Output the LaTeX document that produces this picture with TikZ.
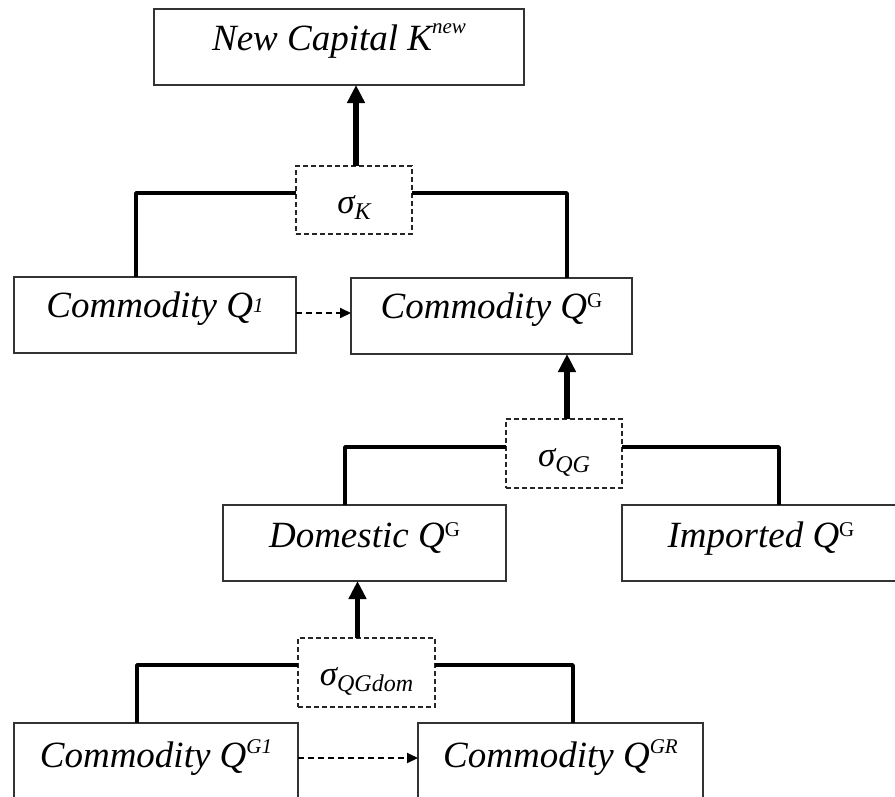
\documentclass[tikz,border=0pt]{standalone}
\usepackage{fontspec}
\setmainfont{Liberation Serif}
\usetikzlibrary{arrows.meta}
\newcommand\mysup[2]{\raisebox{#1}{\fontsize{21}{21}\selectfont #2}}
\newcommand\mysub[1]{\raisebox{-6pt}{\fontsize{24}{24}\selectfont #1}}
\begin{document}
\begin{tikzpicture}[x=1pt,y=-1pt,
  box/.style={draw=black!80, line width=1.5pt, rectangle, inner sep=0pt, outer sep=0pt},
  sig/.style={draw=black!85, dash pattern=on 5pt off 3pt, line width=1.3pt, rectangle, inner sep=0pt, outer sep=0pt},
  lbl/.style={anchor=base, inner sep=0pt, font=\fontsize{37}{40}\selectfont\itshape},
  slbl/.style={anchor=base, inner sep=0pt, font=\fontsize{35}{36}\selectfont\itshape},
  branch/.style={line width=3.5pt, line join=round},
  up/.style={line width=5.5pt, -{Triangle[width=17pt,length=18pt]}},
  side/.style={line width=2pt, dash pattern=on 6pt off 4pt, -{Triangle[width=10pt,length=11pt]}},
]
\useasboundingbox (0,0) rectangle (895,796);
\clip (0,0) rectangle (895,796);

% boxes
\node[box, minimum width=370pt, minimum height=76pt] (kn) at (339,47) {};
\node[sig, minimum width=116pt, minimum height=68pt] (sk) at (354,200) {};
\node[box, minimum width=282pt, minimum height=76pt] (q1) at (155,315) {};
\node[box, minimum width=281pt, minimum height=76pt] (qg) at (491.5,316) {};
\node[sig, minimum width=116pt, minimum height=69pt] (sqg) at (564,453.5) {};
\node[box, minimum width=283pt, minimum height=76pt] (dom) at (364.5,543) {};
\node[box, minimum width=283pt, minimum height=76pt] (imp) at (763.5,543) {};
\node[sig, minimum width=137pt, minimum height=69pt] (sqd) at (366.5,672.5) {};
\node[box, minimum width=284pt, minimum height=76pt] (g1) at (156,761) {};
\node[box, minimum width=285pt, minimum height=76pt] (gr) at (560.5,761) {};

% labels
\node[lbl] (knt) at (339,50) {New Capital K\mysup{17pt}{new}};
\node[lbl] (q1t) at (155,317) {Commodity Q\mysup{5pt}{1}};
\node[lbl] (qgt) at (491.5,318) {Commodity Q\mysup{11pt}{\upshape G}};
\node[lbl] (domt) at (364.5,547) {Domestic Q\mysup{11pt}{\upshape G}};
\node[lbl] (impt) at (761,547) {Imported Q\mysup{11pt}{\upshape G}};
\node[lbl] (g1t) at (156,767) {Commodity Q\mysup{14pt}{G1}};
\node[lbl] (grt) at (560.5,767) {Commodity Q\mysup{14pt}{GR}};
\node[slbl] (skt) at (354,213) {σ\mysub{K}};
\node[slbl] (sqgt) at (564,466) {σ\mysub{QG}};
\node[slbl] (sqdt) at (366.5,685) {σ\mysub{QGdom}};

% branch coordinates
\coordinate (kl) at (136,193);
\coordinate (kr) at (567,193);
\coordinate (gl) at (345,447);
\coordinate (gR) at (779,447);
\coordinate (dl) at (137,665);
\coordinate (dr) at (573,665);

% branches
\draw[branch] (sk.west |- kl) -| (q1.north -| kl);
\draw[branch] (sk.east |- kr) -| (qg.north -| kr);
\draw[branch] (sqg.west |- gl) -| (dom.north -| gl);
\draw[branch] (sqg.east |- gR) -| (imp.north -| gR);
\draw[branch] (sqd.west |- dl) -| (g1.north -| dl);
\draw[branch] (sqd.east |- dr) -| (gr.north -| dr);

% upward arrows
\draw[up] ([xshift=2pt]sk.north) -- ([xshift=2pt]sk.north |- kn.south);
\draw[up] ([xshift=3pt]sqg.north) -- ([xshift=3pt]sqg.north |- qg.south);
\draw[up] ([xshift=-9pt]sqd.north) -- ([xshift=-9pt]sqd.north |- dom.south);

% dashed side arrows
\draw[side] ([yshift=2pt]q1.east) -- ([yshift=2pt]q1.east -| qg.west);
\draw[side] ([yshift=3pt]g1.east) -- ([yshift=3pt]g1.east -| gr.west);
\end{tikzpicture}
\end{document}
